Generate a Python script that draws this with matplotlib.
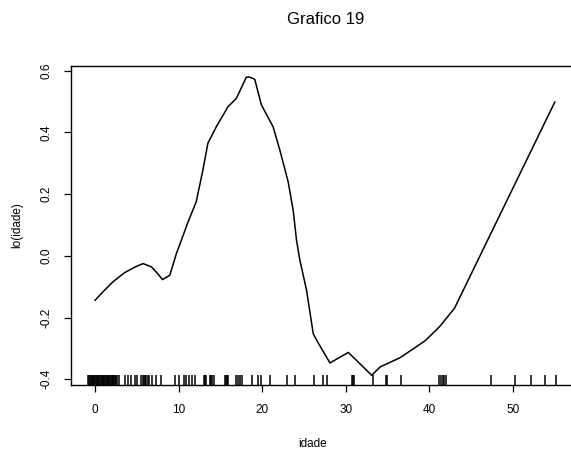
import matplotlib
matplotlib.use("Agg")
import matplotlib.pyplot as plt

# curve lo(idade)
idade = [0, 1, 2.15, 3.5, 4.8, 5.74, 6.75, 7.5, 8.06, 8.94, 9.74, 10.33, 11.1,
         12.1, 12.9, 13.5, 14.5, 15.9, 16.9, 18.1, 18.5, 19.1, 19.9, 21.3,
         22.1, 23.1, 23.7, 24.1, 24.5, 25.3, 26.1, 26.5, 28.1, 30.3, 33.1,
         34.1, 36.5, 39.5, 41.2, 43, 55]
lo_idade = [-0.144, -0.115, -0.084, -0.055, -0.036, -0.025, -0.036, -0.058,
            -0.077, -0.063, 0.008, 0.051, 0.108, 0.175, 0.278, 0.365, 0.418,
            0.483, 0.510, 0.579, 0.579, 0.572, 0.489, 0.418, 0.343, 0.240,
            0.148, 0.051, -0.014, -0.111, -0.252, -0.273, -0.347, -0.313,
            -0.387, -0.360, -0.33, -0.275, -0.23, -0.17, 0.498]

# rug of observed ages (jittered in the original, so some go below 0)
rug = [-0.8, -0.7, -0.6, -0.5, -0.4, -0.3, -0.2, -0.1, 0.0, 0.1, 0.2, 0.3,
       0.4, 0.5, 0.6, 0.7, 0.8, 0.9, 1.0, 1.1, 1.2, 1.3, 1.4, 1.5, 1.6, 1.7,
       1.8, 1.9, 2.0, 2.1, 2.2, 2.3, 2.4, 2.5, 2.6, 2.87, 3.55, 3.95, 4.35,
       4.75, 5.07, 5.55, 5.7, 5.85, 6.0, 6.15, 6.3, 6.45, 6.86, 7.34, 7.94,
       9.53, 10.05, 10.6, 10.93, 11.25, 11.54, 11.93, 13.0, 13.15, 13.3,
       13.7, 13.85, 14.0, 14.2, 15.5, 15.65, 15.8, 15.9, 16.9, 17.05, 17.3,
       17.6, 18.8, 19.5, 19.9, 20.9, 23.0, 23.9, 26.2, 27.3, 27.75, 30.7,
       30.85, 31.0, 33.3, 34.8, 34.9, 36.65, 41.2, 41.4, 41.6, 41.8, 42.0,
       47.4, 50.2, 52.2, 53.8, 55.1]

xticks = [0, 10, 20, 30, 40, 50]
yticks = [-0.4, -0.2, 0.0, 0.2, 0.4, 0.6]
ytick_labels = ["-0.4", "-0.2", "0.0", "0.2", "0.4", "0.6"]

plt.rcParams['font.family'] = ['Liberation Sans', 'DejaVu Sans']

fig = plt.figure(figsize=(5.71, 4.5), dpi=100)
# right edge of the box runs off the picture like in the original
ax = fig.add_axes([71/571, 65/450, 503/571, 319/450])

ax.plot(idade, lo_idade, color='black', lw=1.1)
ax.vlines(rug, 0, 10/319, colors='black', lw=1.1,
          transform=ax.get_xaxis_transform())

ax.set_xlim(-2.88, 57.3)
ax.set_ylim(-0.4185, 0.615)
ax.set_xticks(xticks)
ax.set_yticks(yticks)
ax.set_yticklabels(ytick_labels, rotation=90, va='center')

ax.tick_params(direction='out', length=5, width=0.9, labelsize=8.5, color='black')
ax.tick_params(axis='x', pad=9)
ax.tick_params(axis='y', pad=8)
for s in ax.spines.values():
    s.set_linewidth(1.0)

ax.set_xlabel('idade', fontsize=8.5)
ax.xaxis.set_label_coords(0.48, -0.165)
ax.set_ylabel('lo(idade)', fontsize=8.5)
ax.yaxis.set_label_coords(-0.095, 0.5)

fig.text(326/571, 1 - 20/450, 'Grafico 19', ha='center', va='center', fontsize=12)

fig.savefig('out.png', dpi=100)
